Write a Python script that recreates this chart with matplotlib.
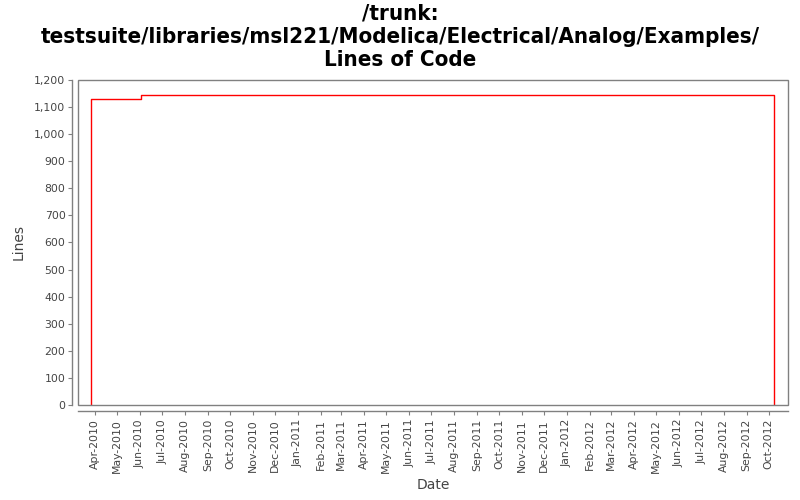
import matplotlib
matplotlib.use("Agg")
import matplotlib.pyplot as plt
import matplotlib.dates as mdates
import matplotlib.ticker as mticker
from matplotlib.patches import Rectangle
import numpy as np
import datetime as dt

# Data
dates = ["2010-03-26", "2010-03-26", "2010-06-02", "2012-10-08"]
lines = [0, 1129, 1144, 0]
title = "/trunk:\ntestsuite/libraries/msl221/Modelica/Electrical/Analog/Examples/\nLines of Code"
x_label = "Date"
y_label = "Lines"

d = [dt.datetime.strptime(s, "%Y-%m-%d") for s in dates]

fig = plt.figure(figsize=(8, 5), dpi=100)
fig.patch.set_facecolor("white")
ax = fig.add_axes([0.0975, 0.19, 0.8875, 0.65])

ax.plot(d, lines, drawstyle="steps-post", color="#ff0000", lw=1.0)

xmin, xmax = dt.datetime(2010, 3, 9), dt.datetime(2012, 10, 27)
ax.set_xlim(xmin, xmax)
ax.set_ylim(0, 1200)

ax.yaxis.set_major_locator(mticker.MultipleLocator(100))
ax.yaxis.set_major_formatter(mticker.FuncFormatter(lambda v, p: f"{int(v):,}"))
ax.xaxis.set_major_locator(mdates.MonthLocator())
ax.xaxis.set_major_formatter(mdates.DateFormatter("%b-%Y"))

for s in ["top", "right"]:
    ax.spines[s].set_visible(False)
for s in ["left", "bottom"]:
    ax.spines[s].set_position(("outward", 4))
    ax.spines[s].set_color("#808080")
    ax.spines[s].set_linewidth(1.0)
ax.spines["left"].set_bounds(0, 1200)
ax.spines["bottom"].set_bounds(mdates.date2num(xmin), mdates.date2num(xmax))

ax.add_patch(Rectangle((0, 0), 1, 1, transform=ax.transAxes, fill=False,
                       edgecolor="#808080", lw=1.0, clip_on=False, zorder=5))

ax.tick_params(axis="both", colors="#808080", labelcolor="#444444",
               labelsize=7.8, length=3, width=0.8)
ax.tick_params(axis="x", labelrotation=90, pad=3)
ax.tick_params(axis="y", pad=2)

ax.set_xlabel(x_label, fontsize=10, color="#444444", labelpad=4)
ax.set_ylabel(y_label, fontsize=10, color="#444444", labelpad=6)

fig.suptitle(title, fontsize=16, fontweight="bold", fontstretch="condensed",
             y=0.993, va="top", linespacing=1.2)

fig.savefig("out.png", dpi=100)
